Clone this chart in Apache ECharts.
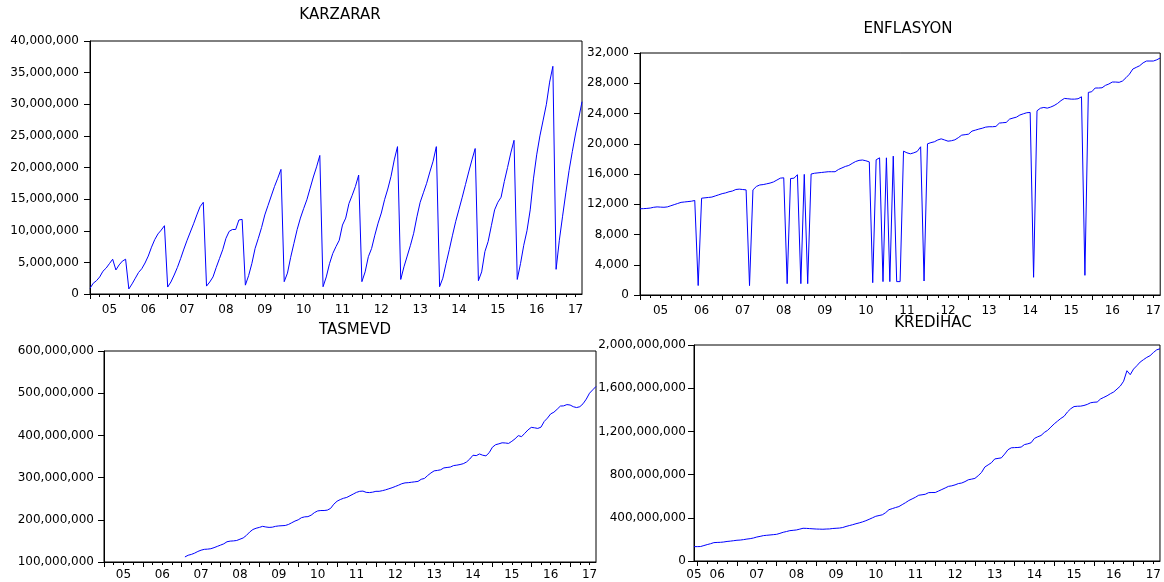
<!DOCTYPE html>
<html><head><meta charset="utf-8">
<script src="https://cdn.jsdelivr.net/npm/echarts@6/dist/echarts.min.js"></script>
<style>html,body{margin:0;padding:0;background:#fff}#c{width:1164px;height:582px}</style>
</head><body><div id="c"></div>
<script>
// ---- DATA (monthly, 2005M01 .. 2017M09) ----
const startYear = 2005;
const monthCount = 153;
// KARZARAR, millions
const karzarar = [
  0.9, 1.7, 2.1, 2.7, 3.6, 4.1, 4.8, 5.5, 3.8, 4.6, 5.2, 5.5,
  0.8, 1.6, 2.5, 3.4, 4.0, 4.9, 6.0, 7.4, 8.6, 9.5, 10.1, 10.8,
  1.1, 1.9, 3.0, 4.2, 5.6, 7.1, 8.5, 9.8, 11.1, 12.5, 13.8, 14.5,
  1.25, 1.9, 2.7, 4.2, 5.6, 7.0, 8.8, 9.9, 10.2, 10.2, 11.7, 11.8,
  1.4, 2.9, 4.8, 7.2, 8.8, 10.5, 12.5, 14.0, 15.5, 17.0, 18.3, 19.7,
  1.95, 3.3, 5.8, 8.0, 10.2, 12.0, 13.5, 14.9, 16.7, 18.5, 20.1, 21.9,
  1.15, 2.7, 4.8, 6.4, 7.5, 8.5, 10.9, 12.0, 14.3, 15.6, 17.0, 18.8,
  1.95, 3.5, 5.9, 7.2, 9.3, 11.2, 12.8, 14.9, 16.6, 18.6, 21.2, 23.3,
  2.3, 4.3, 6.0, 7.7, 9.6, 12.2, 14.5, 16.0, 17.5, 19.3, 21.0, 23.3,
  1.15, 2.5, 4.8, 7.0, 9.3, 11.5, 13.4, 15.3, 17.3, 19.3, 21.2, 23.0,
  2.1, 3.5, 6.7, 8.3, 10.8, 13.3, 14.5, 15.3, 17.8, 20.0, 22.3, 24.3,
  2.3, 4.8, 7.7, 10.0, 13.3, 18.2, 22.0, 25.0, 27.5, 30.0, 33.5, 36.0,
  3.9, 8.5, 12.3, 16.0, 19.5, 22.5, 25.3, 27.8, 30.4
];
// ENFLASYON
const enflasyon = [
  11400, 11420, 11450, 11500, 11600, 11650, 11620, 11600, 11650, 11800, 11950, 12100,
  12250, 12300, 12350, 12400, 12500, 1250, 12800, 12850, 12900, 12950, 13100, 13250,
  13400, 13500, 13650, 13750, 13950, 14000, 13950, 13900, 1240, 13900, 14350, 14550,
  14600, 14700, 14800, 14950, 15200, 15450, 15500, 1500, 15400, 15450, 15900, 1500,
  15950, 1500, 16000, 16100, 16150, 16200, 16250, 16300, 16300, 16300, 16600, 16800,
  17000, 17130, 17400, 17650, 17800, 17850, 17750, 17600, 1630, 17880, 18140, 1770,
  18140, 1770, 18360, 1770, 1770, 19020, 18800, 18670, 18800, 18980, 19600, 1850,
  19990, 20150, 20260, 20500, 20650, 20500, 20340, 20400, 20520, 20800, 21140, 21200,
  21270, 21670, 21800, 21940, 22050, 22200, 22250, 22250, 22290, 22730, 22780, 22820,
  23260, 23400, 23520, 23800, 23960, 24100, 24140, 2340, 24360, 24700, 24800, 24710,
  24850, 25050, 25330, 25700, 25990, 25950, 25900, 25900, 25950, 26210, 2600, 26790,
  26880, 27370, 27370, 27400, 27720, 27900, 28160, 28160, 28120, 28300, 28730, 29200,
  29880, 30100, 30320, 30700, 30940, 30940, 30940, 31100, 31340
];
// TASMEVD, millions (no data before 2007M02)
const tasmevd = [
  null, null, null, null, null, null, null, null, null, null, null, null,
  null, null, null, null, null, null, null, null, null, null, null, null,
  null, 112, 116, 118, 121, 125, 128, 130, 130.5, 131.5, 134, 137,
  140, 143, 148, 149.5, 150, 151, 154, 157, 163, 171, 177, 180,
  182, 184.5, 183, 182, 182.5, 184.5, 185.5, 186, 186.5, 189, 193, 197,
  200, 205, 207, 207.5, 211, 217, 221, 222, 222, 223, 227, 237,
  244, 248, 251, 253, 257, 261, 265, 267.5, 268, 265, 264.5, 265.5,
  267.5, 267.5, 269, 271, 273.5, 276, 279, 282, 285.5, 287.5, 288, 289,
  290, 291, 296, 298, 305, 311, 316, 317, 318.5, 323, 324, 325,
  328.5, 329.5, 331, 333, 337, 344, 353, 352, 356, 353, 351.5, 359,
  372, 378, 380, 382.5, 382, 381, 386, 392, 399.5, 397, 405, 413,
  419, 418, 416.5, 419.5, 433, 441, 451, 455, 462, 469.5, 470, 473,
  472, 468, 466, 468, 475, 486, 500, 508, 516
];
// KREDİHAC, millions (2005M12 .. 2017M09)
const kredihacStart = 11;
const kredihac = [
  133, 133, 134, 143, 152, 160, 170, 172, 173, 176, 181, 184,
  188, 192, 194, 198, 203, 207, 213, 222, 228, 235, 238, 241,
  244, 247, 256, 266, 273, 281, 284, 287.5, 295, 303, 302, 300,
  298, 296, 295, 294, 296, 297, 301, 303, 305, 310, 320, 328,
  336, 345, 353, 362, 373, 386, 400, 414, 421, 428, 448, 475,
  485, 495, 504, 522, 540, 560, 575, 590, 609, 613, 618, 633,
  634, 634, 648, 662, 676, 691, 696, 705, 717, 722, 735, 752,
  758, 765, 790, 820, 870, 890, 910, 945, 950, 955, 990, 1030,
  1048, 1050, 1051, 1055, 1078, 1085, 1095, 1135, 1150, 1162, 1190, 1210,
  1240, 1270, 1295, 1320, 1340, 1380, 1410, 1430, 1433, 1434, 1440, 1450,
  1465, 1470, 1472, 1500, 1515, 1530, 1549, 1565, 1592, 1620, 1665, 1762,
  1725, 1777, 1808, 1842, 1864, 1885, 1901, 1930, 1955, 1965
];
const titles = ['KARZARAR', 'ENFLASYON', 'TASMEVD', 'KRED\u0130HAC'];

// ---- helpers ----
const months = [];
for (let i = 0; i < monthCount; i++) {
  const y = startYear + Math.floor(i / 12), m = (i % 12) + 1;
  months.push(y + '-' + (m < 10 ? '0' + m : m));
}
const kredMonths = months.slice(kredihacStart);
const comma = n => Math.round(n).toString().replace(/\B(?=(\d{3})+(?!\d))/g, ',');
const FONT = 'DejaVu Sans';
const BLUE = '#0000ff';

const grids = [
  { left: 90, top: 41, width: 492, height: 253 },
  { left: 640, top: 53, width: 526, height: 242 },
  { left: 104, top: 351, width: 492, height: 211 },
  { left: 694, top: 345, width: 466, height: 216 }
];
const yCfg = [
  { min: 0, max: 40, interval: 5, scale: 1e6, margin: 11 },
  { min: 0, max: 32000, interval: 4000, scale: 1, margin: 11 },
  { min: 100, max: 600, interval: 100, scale: 1e6, margin: 10 },
  { min: 0, max: 2000, interval: 400, scale: 1e6, margin: 8 }
];
const xMargin = [10, 10, 7, 8];
const cats = [months, months, months, kredMonths];
const seriesData = [karzarar, enflasyon, tasmevd, kredihac];
const titlePos = [[335, 3], [903, 17], [350, 318], [928, 311]];

const xAxes = [], yAxes = [], series = [], title = [];
grids.forEach((g, gi) => {
  const cat = cats[gi];
  xAxes.push({
    type: 'category', gridIndex: gi, data: cat, boundaryGap: false, position: 'bottom',
    axisLine: { show: true, lineStyle: { color: '#000', width: 1 } },
    axisTick: { show: true, length: 3, lineStyle: { color: '#000' },
      interval: (idx, v) => ((+String(v).slice(5)) - 1) % 3 === 0 },
    axisLabel: {
      show: true, margin: xMargin[gi], color: '#000', fontFamily: FONT, fontSize: 12,
      interval: (idx, v) => String(v).slice(5) === '07' || (gi === 3 && idx === 0),
      formatter: (v) => String(v).slice(2, 4)
    },
    splitLine: { show: false }
  });
  xAxes.push({
    type: 'category', gridIndex: gi, data: cat, boundaryGap: false, position: 'bottom',
    axisLine: { show: false },
    axisTick: { show: true, length: 5, lineStyle: { color: '#000' },
      interval: (idx, v) => String(v).slice(5) === '01' },
    axisLabel: { show: false },
    splitLine: { show: false }
  });
  const yc = yCfg[gi];
  yAxes.push({
    type: 'value', gridIndex: gi, min: yc.min, max: yc.max, interval: yc.interval,
    axisLine: { show: true, lineStyle: { color: '#000', width: 1 } },
    axisTick: { show: true, length: 6, lineStyle: { color: '#000' } },
    axisLabel: { margin: yc.margin, color: '#000', fontFamily: FONT, fontSize: 12,
      formatter: v => comma(v * yc.scale) },
    splitLine: { show: false }
  });
  series.push({
    type: 'line', xAxisIndex: gi * 2, yAxisIndex: gi, data: seriesData[gi],
    showSymbol: false, symbol: 'none', connectNulls: false,
    lineStyle: { color: BLUE, width: 1 }, itemStyle: { color: BLUE },
    animation: false
  });
  title.push({
    text: titles[gi], left: titlePos[gi][0], top: titlePos[gi][1], textAlign: 'center',
    textStyle: { fontFamily: FONT, fontSize: 15, fontWeight: 'normal', color: '#000' }
  });
});

const chart = echarts.init(document.getElementById('c'), null, { renderer: 'canvas' });
chart.setOption({
  animation: false,
  backgroundColor: '#fff',
  title: title,
  grid: grids.map(g => Object.assign({ show: true, borderColor: '#000', borderWidth: 1, backgroundColor: 'transparent', containLabel: false }, g)),
  xAxis: xAxes,
  yAxis: yAxes,
  series: series
});
</script>
</body></html>
